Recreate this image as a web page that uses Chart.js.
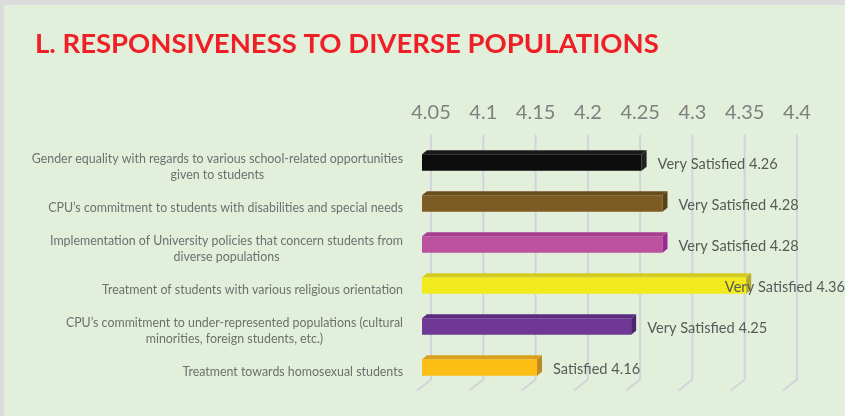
<!DOCTYPE html>
<html>
<head>
<meta charset="utf-8">
<script src="https://cdn.jsdelivr.net/npm/chart.js@4.4.1/dist/chart.umd.min.js"></script>
<style>
  html, body { margin: 0; padding: 0; background: #dcdcdc; }
  #wrap { position: absolute; left: 4px; top: 5px; width: 841px; height: 411px; background: #e2efda; }
</style>
</head>
<body>
<div id="wrap"><canvas id="chart"></canvas></div>
<script>
// 項目ラベル（複数行は配列）
const categories = [
  ['Gender equality with regards to various school-related opportunities', 'given to students'],
  ['CPU\u2019s commitment to students with disabilities and special needs'],
  ['Implementation of University policies that concern students from', 'diverse populations'],
  ['Treatment of students with various religious orientation'],
  ['CPU\u2019s commitment to under-represented populations (cultural', 'minorities, foreign students, etc.)'],
  ['Treatment towards homosexual students'],
];
const scores = [4.26, 4.28, 4.28, 4.36, 4.25, 4.16];
const ratings = ['Very Satisfied', 'Very Satisfied', 'Very Satisfied', 'Very Satisfied', 'Very Satisfied', 'Satisfied'];
const xTicks = [4.05, 4.1, 4.15, 4.2, 4.25, 4.3, 4.35, 4.4];

// 棒の色（前面・上面・側面）
const FRONT = ['#0b0c0b', '#7d5c24', '#bb529d', '#f1ea1c', '#6e3894', '#fdbf16'];
const TOP = ['#1a1a1a', '#6a4c1c', '#a83d92', '#d3cb22', '#5b2c80', '#d9a01b'];
const SIDE = ['#222222', '#5b4116', '#9a2a93', '#b4ab2d', '#4d2472', '#bd8a24'];
const DX = 5, DY = 4;

/** 背面＋床のグリッド線（3D風） */
const grid3d = {
  id: 'grid3d',
  beforeDatasetsDraw(chart) {
    const { ctx, chartArea: a, scales: { x } } = chart;
    ctx.save();
    ctx.strokeStyle = '#d3d3db';
    ctx.lineWidth = 2;
    xTicks.forEach(v => {
      const px = x.getPixelForValue(v);
      ctx.beginPath();
      ctx.moveTo(px + 9, a.top - 7.5);
      ctx.lineTo(px + 9, a.bottom - 8.5);
      ctx.lineTo(px - 5, a.bottom + 2.5);
      ctx.stroke();
    });
    ctx.restore();
  },
};

/** 棒の上面・側面 */
const bars3d = {
  id: 'bars3d',
  afterDatasetsDraw(chart) {
    const { ctx } = chart;
    chart.getDatasetMeta(0).data.forEach((bar, i) => {
      const { x, y, base, height } = bar.getProps(['x', 'y', 'base', 'height'], true);
      const t = y - height / 2, b = y + height / 2;
      ctx.save();
      ctx.fillStyle = TOP[i];
      ctx.beginPath();
      ctx.moveTo(base, t);
      ctx.lineTo(x, t);
      ctx.lineTo(x + DX, t - DY);
      ctx.lineTo(base + DX, t - DY);
      ctx.closePath();
      ctx.fill();
      ctx.fillStyle = SIDE[i];
      ctx.beginPath();
      ctx.moveTo(x, t);
      ctx.lineTo(x + DX, t - DY);
      ctx.lineTo(x + DX, b - DY);
      ctx.lineTo(x, b);
      ctx.closePath();
      ctx.fill();
      ctx.restore();
    });
  },
};

/** 値ラベルと項目ラベル */
const labels = {
  id: 'labels',
  afterDraw(chart) {
    const { ctx, chartArea: a } = chart;
    const meta = chart.getDatasetMeta(0);
    ctx.save();
    ctx.textBaseline = 'middle';
    ctx.font = "14.6px Lato, 'Open Sans', sans-serif";
    ctx.fillStyle = '#595959';
    ctx.textAlign = 'left';
    meta.data.forEach((bar, i) => {
      const txt = `${ratings[i]} ${scores[i].toFixed(2)}`;
      const w = ctx.measureText(txt).width;
      const tx = Math.min(bar.x + DX + 11, chart.width - w);
      ctx.fillText(txt, tx, bar.y + 1.5);
    });

    ctx.font = "12.4px Lato, 'Open Sans', sans-serif";
    ctx.fillStyle = '#6f6f6f';
    ctx.textAlign = 'center';
    const right = a.left - 19;
    const lh = 16.5;
    meta.data.forEach((bar, i) => {
      const lines = categories[i];
      const bw = Math.max(...lines.map(l => ctx.measureText(l).width));
      const cx = right - bw / 2;
      const y0 = bar.y + 4.5 - (lines.length - 1) * lh / 2;
      lines.forEach((l, k) => ctx.fillText(l, cx, y0 + k * lh));
    });
    ctx.restore();
  },
};

new Chart(document.getElementById('chart'), {
  type: 'bar',
  data: {
    labels: categories,
    datasets: [{
      data: scores,
      base: 4.05,
      backgroundColor: FRONT,
      borderWidth: 0,
      barPercentage: 0.4,
      categoryPercentage: 1,
    }],
  },
  options: {
    indexAxis: 'y',
    responsive: true,
    maintainAspectRatio: false,
    animation: false,
    layout: { padding: { left: 31, right: 57, top: 0, bottom: 28 } },
    scales: {
      x: {
        position: 'top',
        min: 4.05,
        max: 4.4,
        afterBuildTicks: s => { s.ticks = xTicks.map(v => ({ value: v })); },
        grid: { display: false, drawTicks: false },
        border: { display: false },
        ticks: {
          font: { family: "Lato, 'Open Sans', sans-serif", size: 20 },
          color: '#7f7f7f',
          labelOffset: 9,
          padding: 17,
          maxRotation: 0,
          autoSkip: false,
          callback: v => String(v),
        },
      },
      y: {
        afterFit: s => { s.width = 387; },
        grid: { display: false },
        border: { display: false },
        ticks: { display: false },
      },
    },
    plugins: {
      legend: { display: false },
      tooltip: { enabled: false },
      title: {
        display: true,
        text: 'L. RESPONSIVENESS TO DIVERSE POPULATIONS',
        align: 'start',
        color: '#ee1f26',
        font: { family: "Lato, 'Open Sans', sans-serif", size: 27.5, weight: 'bold' },
        padding: { top: 23, bottom: 23 },
      },
    },
  },
  plugins: [grid3d, bars3d, labels],
});
</script>
</body>
</html>
